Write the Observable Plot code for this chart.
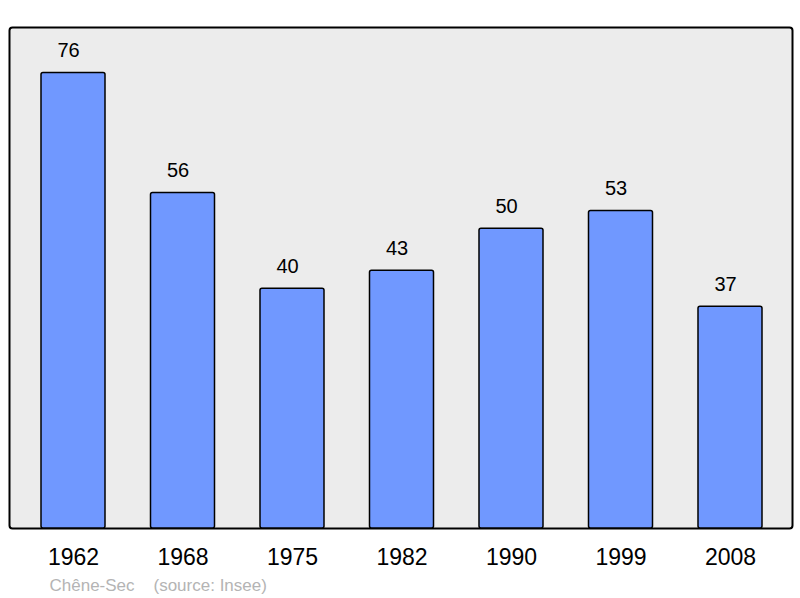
<!DOCTYPE html>
<html>
<head>
<meta charset="utf-8">
<script src="https://cdn.jsdelivr.net/npm/d3@7"></script>
<script src="https://cdn.jsdelivr.net/npm/@observablehq/plot@0.6"></script>
<style>
  html, body { margin: 0; padding: 0; background: #fff; }
</style>
</head>
<body>
<div id="chart"></div>
<script>
const years = ["1962", "1968", "1975", "1982", "1990", "1999", "2008"];
const population = [76, 56, 40, 43, 50, 53, 37];
const place = "Chêne-Sec";
const source = "(source: Insee)";

const data = years.map((y, i) => ({year: y, value: population[i]}));
const yMax = d3.max(population) * 1.1;

const chart = Plot.plot({
  width: 800,
  height: 598,
  marginLeft: 9,
  marginRight: 8,
  marginTop: 27,
  marginBottom: 70,
  style: {fontFamily: "Liberation Sans, Arial, sans-serif", background: "#fff"},
  x: {domain: years, range: [18.25, 784.75], paddingInner: 0.4155, paddingOuter: 0.20775, round: false, label: null},
  y: {domain: [0, yMax], axis: null},
  marks: [
    Plot.frame({fill: "#ececec", stroke: "#000", strokeWidth: 2, rx: 3}),
    Plot.barY(data, {x: "year", y: "value", fill: "#7098ff", stroke: "#000", strokeWidth: 1.5, rx: 2}),
    Plot.text(data, {x: "year", y: "value", text: d => String(d.value), dx: -5, dy: -22, fontSize: 20, fill: "#000"}),
    Plot.axisX({tickSize: 0, fontSize: 23, tickPadding: 20, fill: "#000", label: null}),
    Plot.text([place], {frameAnchor: "bottom-left", text: d => d, dx: 40, dy: 62, textAnchor: "start", lineAnchor: "bottom", fontSize: 17, fill: "#b4b4b4"}),
    Plot.text([source], {frameAnchor: "bottom-left", text: d => d, dx: 144, dy: 62, textAnchor: "start", lineAnchor: "bottom", fontSize: 17, fill: "#b4b4b4"})
  ]
});
document.getElementById("chart").appendChild(chart);
</script>
</body>
</html>
